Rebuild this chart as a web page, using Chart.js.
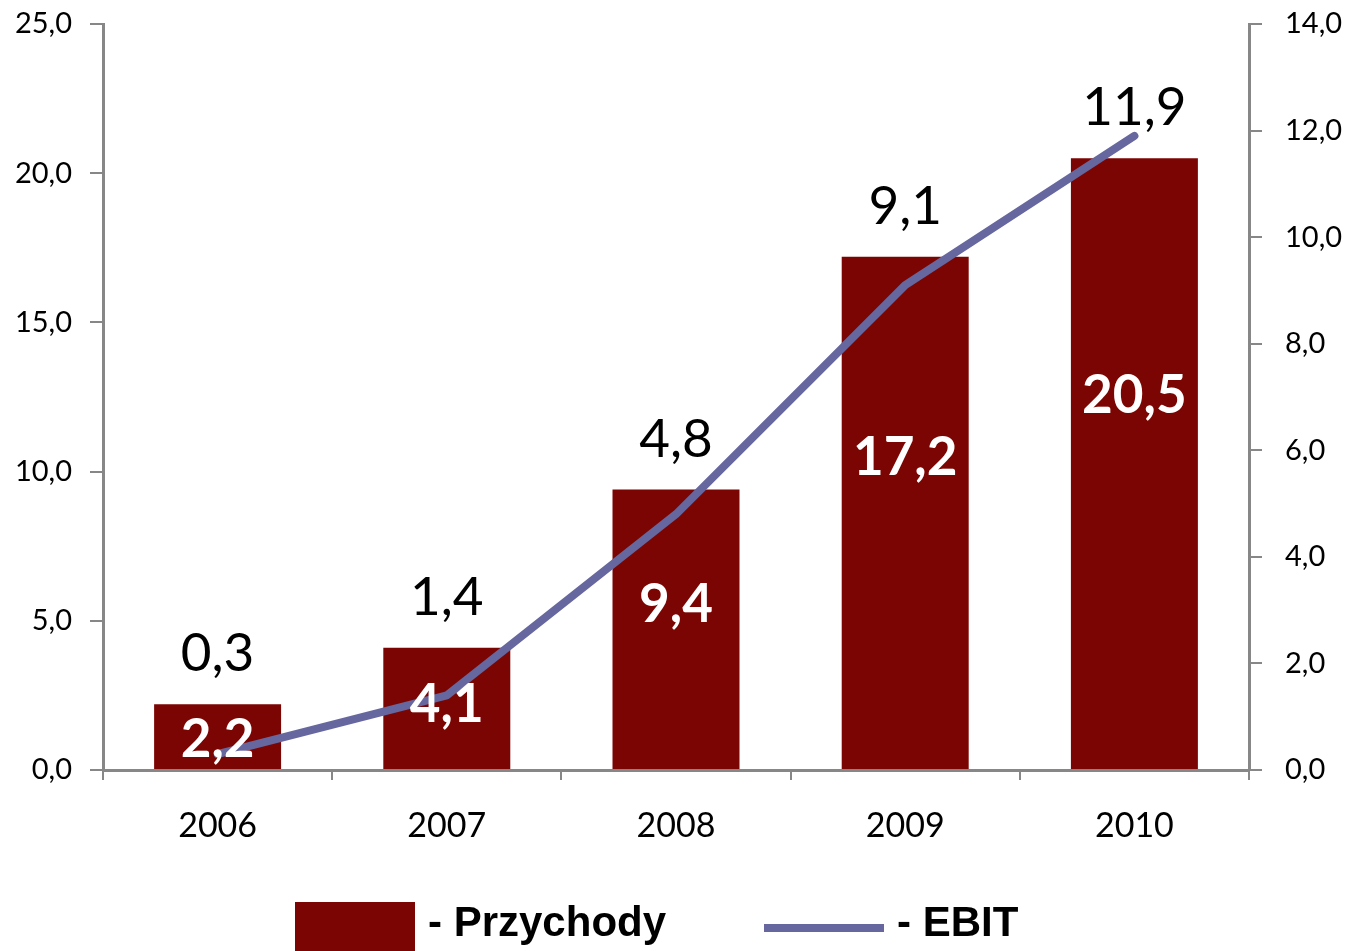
<!DOCTYPE html>
<html>
<head>
<meta charset="utf-8">
<script src="https://cdn.jsdelivr.net/npm/chart.js@4/dist/chart.umd.min.js"></script>
<style>
  body { margin: 0; background: #fff; }
  #wrap { position: relative; width: 1349px; height: 951px; overflow: hidden; }
  .legend-box { position: absolute; left: 295px; top: 902px; width: 120px; height: 49px; background: #7b0502; }
  .legend-line { position: absolute; left: 764px; top: 924px; width: 120px; height: 8px; background: #66679e; }
  .legend-text { position: absolute; top: 901px; font: bold 42px "Liberation Sans", Arial, sans-serif; line-height: 42px; color: #000; white-space: nowrap; }
</style>
</head>
<body>
<div id="wrap">
  <canvas id="chart" width="1349" height="951"></canvas>
  <div class="legend-box"></div>
  <div class="legend-text" style="left:428px">- Przychody</div>
  <div class="legend-line"></div>
  <div class="legend-text" style="left:897px">- EBIT</div>
</div>
<script>
const years = ["2006", "2007", "2008", "2009", "2010"];
const przychody = [2.2, 4.1, 9.4, 17.2, 20.5];
const ebit = [0.3, 1.4, 4.8, 9.1, 11.9];

const BAR_COLOR = "#7b0502";
const LINE_COLOR = "#66679e";
const AXIS_COLOR = "#878787";

function fmt(v) {
  return v.toFixed(1).replace(".", ",");
}

// draws the value labels (white inside bars, black above them)
const valueLabels = {
  id: "valueLabels",
  afterDatasetsDraw(chart) {
    const ctx = chart.ctx;
    const bars = chart.getDatasetMeta(0).data;
    ctx.save();
    ctx.textAlign = "center";
    ctx.textBaseline = "middle";
    bars.forEach((bar, i) => {
      const h = bar.base - bar.y;
      ctx.fillStyle = "#fff";
      ctx.font = "bold 53px Lato";
      ctx.fillText(fmt(przychody[i]), bar.x, bar.y + h * 0.37 + 12);
      ctx.fillStyle = "#000";
      ctx.font = "53px Lato";
      ctx.fillText(fmt(ebit[i]), bar.x, bar.y - 50);
    });
    ctx.restore();
  },
};

// keep the plot area fixed, labels may overflow into the margin
function fixY(width) {
  return (scale) => {
    scale.width = width;
    scale.paddingTop = 0;
    scale.paddingBottom = 0;
  };
}

new Chart(document.getElementById("chart"), {
  type: "bar",
  data: {
    labels: years,
    datasets: [
      {
        type: "bar",
        label: "- Przychody",
        data: przychody,
        backgroundColor: BAR_COLOR,
        yAxisID: "y",
        barPercentage: 0.554,
        categoryPercentage: 1,
        order: 2,
      },
      {
        type: "line",
        label: "- EBIT",
        data: ebit,
        borderColor: LINE_COLOR,
        borderWidth: 8,
        borderCapStyle: "round",
        borderJoinStyle: "round",
        pointRadius: 0,
        tension: 0,
        yAxisID: "y1",
        order: 1,
      },
    ],
  },
  options: {
    responsive: false,
    animation: false,
    layout: { padding: { top: 24, left: 0, right: 0, bottom: 0 } },
    plugins: { legend: { display: false }, tooltip: { enabled: false } },
    scales: {
      x: {
        grid: { offset: true, drawOnChartArea: false, tickLength: 10, color: AXIS_COLOR, lineWidth: 2 },
        border: { color: AXIS_COLOR, width: 3 },
        ticks: { color: "#000", font: { family: "Lato", size: 34 }, padding: 26 },
        afterFit(scale) {
          scale.height = 181;
          scale.paddingLeft = 0;
          scale.paddingRight = 0;
        },
      },
      y: {
        position: "left",
        min: 0,
        max: 25,
        grid: { drawOnChartArea: false, tickLength: 13, color: AXIS_COLOR, lineWidth: 2 },
        border: { color: AXIS_COLOR, width: 3 },
        ticks: { stepSize: 5, color: "#000", font: { family: "Lato", size: 29 }, padding: 18, callback: (v) => fmt(v) },
        afterFit: fixY(103),
      },
      y1: {
        position: "right",
        min: 0,
        max: 14,
        grid: { drawOnChartArea: false, tickLength: 13, color: AXIS_COLOR, lineWidth: 2 },
        border: { color: AXIS_COLOR, width: 3 },
        ticks: { stepSize: 2, color: "#000", font: { family: "Lato", size: 29 }, padding: 23, callback: (v) => fmt(v) },
        afterFit: fixY(100),
      },
    },
  },
  plugins: [valueLabels],
});
</script>
</body>
</html>
